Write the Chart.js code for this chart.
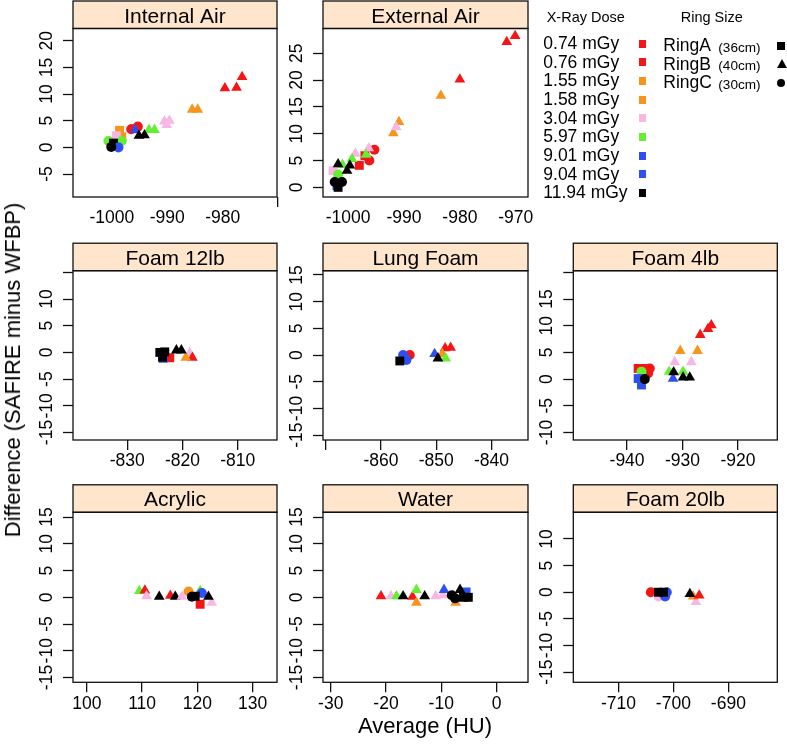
<!DOCTYPE html>
<html><head><meta charset="utf-8">
<script src="https://cdn.jsdelivr.net/npm/chart.js@4.4.1/dist/chart.umd.min.js"></script>
<style>
html,body{margin:0;padding:0;background:#fff;}
body{width:787px;height:747px;overflow:hidden;position:relative;font-family:"Liberation Sans",Arial,sans-serif;color:#000;}
canvas{position:absolute;left:0;top:0;}
.t{position:absolute;white-space:nowrap;line-height:1;}
.sw{position:absolute;}
</style></head><body>
<script>
// ---------- legend categories ----------
const doseLabels = ['0.74','0.76','1.55','1.58','3.04','5.97','9.01','9.04','11.94'];
const doseColors = ['#F31616','#F31616','#F7941E','#F7941E','#F8B7E3','#66EE33','#2F50F0','#2F50F0','#000000'];
const ringLabels = ['RingA','RingB','RingC'];
const ringSizes  = ['(36cm)','(40cm)','(30cm)'];
const ringCodes  = ['A','B','C'];
const ringShapes = {A:'rect', B:'triangle', C:'circle'};

// ---------- data: [average HU, difference, dose, ring] ----------
const internalAir = [
  [-979.6,11.1,'0.74','B'],[-977.5,11.2,'0.76','B'],[-976.5,13.2,'0.74','B'],
  [-985.5,7.1,'1.55','B'],[-984.5,7.1,'1.58','B'],
  [-990.5,4.9,'3.04','B'],[-989.6,5.0,'3.04','B'],[-990.1,4.2,'3.04','B'],
  [-993.3,3.3,'5.97','B'],[-992.3,3.3,'5.97','B'],
  [-996.5,3.4,'0.74','C'],[-995.3,3.9,'0.76','C'],[-995.9,3.5,'0.76','A'],
  [-995.8,3.3,'9.01','B'],
  [-995.1,2.2,'11.94','B'],[-994.1,2.3,'11.94','B'],
  [-998.6,3.2,'1.55','A'],[-998.2,2.0,'1.58','A'],[-999.2,2.2,'3.04','A'],
  [-1000.6,1.2,'5.97','C'],[-998.2,1.2,'5.97','C'],
  [-999.7,0.8,'11.94','A'],[-998.8,0.0,'9.04','C'],[-1000.1,0.1,'11.94','C']
];
const externalAir = [
  [-970.1,28.2,'0.74','B'],[-971.6,27.1,'0.76','B'],[-980.0,20.1,'0.74','B'],
  [-983.4,17.1,'1.55','B'],[-990.9,12.2,'1.58','B'],[-991.9,10.1,'1.55','B'],
  [-991.4,11.2,'3.04','B'],
  [-995.3,7.0,'0.74','C'],[-996.2,5.0,'0.76','C'],
  [-998.0,4.1,'0.74','A'],[-997.0,5.9,'0.76','A'],
  [-996.3,7.3,'3.04','B'],[-998.7,6.3,'3.04','B'],
  [-996.8,6.1,'5.97','B'],[-999.3,5.3,'5.97','B'],[-1001.0,4.2,'5.97','B'],
  [-1002.7,3.1,'3.04','A'],[-1001.8,2.4,'5.97','C'],
  [-1001.8,4.3,'11.94','B'],[-999.7,4.1,'11.94','B'],[-1000.2,3.1,'11.94','B'],
  [-1002.0,0.3,'9.04','A'],
  [-1002.4,1.0,'11.94','C'],[-1001.1,1.0,'11.94','C'],[-1001.8,0.0,'11.94','A']
];
const foam12lb = [
  [-822.3,-1.0,'0.74','A'],[-823.5,-1.1,'9.04','A'],
  [-824.1,0.0,'11.94','A'],[-823.2,0.1,'11.94','A'],[-823.6,-0.9,'11.94','A'],
  [-818.7,-0.1,'3.04','B'],[-818.2,-1.0,'0.74','B'],[-819.4,-1.0,'1.55','B'],
  [-821.1,0.4,'11.94','B'],[-820.2,0.4,'11.94','B']
];
const lungFoam = [
  [-854.8,0.0,'0.74','C'],[-856.0,0.0,'9.01','C'],[-855.4,-0.9,'9.04','C'],
  [-856.6,-1.1,'11.94','A'],
  [-850.3,0.2,'9.01','B'],[-848.4,1.3,'0.74','B'],[-847.4,1.4,'0.76','B'],
  [-848.9,0.2,'1.55','B'],[-848.3,-0.6,'5.97','B'],[-849.7,-0.6,'11.94','B']
];
const foam4lb = [
  [-938.0,2.0,'0.74','A'],[-936.8,2.0,'0.76','A'],[-935.9,2.0,'0.74','C'],[-936.2,1.1,'0.76','C'],
  [-937.4,1.4,'5.97','C'],[-938.0,0.1,'9.01','A'],[-937.4,-1.1,'9.04','A'],[-936.8,0.0,'11.94','C'],
  [-924.8,10.1,'0.74','B'],[-925.4,9.4,'0.76','B'],[-926.8,8.3,'0.74','B'],
  [-930.4,5.3,'1.55','B'],[-927.3,5.3,'1.58','B'],
  [-931.4,3.2,'3.04','B'],[-928.4,3.2,'3.04','B'],
  [-932.4,1.4,'5.97','B'],[-929.9,1.4,'5.97','B'],
  [-931.7,0.1,'9.01','B'],
  [-931.6,1.3,'11.94','B'],[-929.9,0.3,'11.94','B'],[-928.7,0.3,'11.94','B']
];
const acrylic = [
  [109.5,1.2,'5.97','B'],[110.5,1.3,'0.74','B'],[110.8,0.2,'3.04','B'],[113.1,0.1,'11.94','B'],
  [115.1,0.3,'0.76','B'],[116.0,0.1,'11.94','B'],[117.2,0.1,'3.04','B'],
  [118.4,1.1,'1.55','C'],[120.5,1.2,'5.97','B'],[120.8,0.8,'9.01','C'],[120.5,-1.3,'0.74','A'],
  [122.6,-1.0,'3.04','B'],[119.0,0.1,'11.94','C'],[119.6,0.2,'11.94','A'],[122.0,0.1,'11.94','B']
];
const water = [
  [-20.9,0.2,'0.74','B'],[-19.1,0.2,'3.04','B'],[-18.1,0.2,'5.97','B'],[-16.9,0.2,'11.94','B'],
  [-15.2,0.1,'0.76','B'],[-14.5,1.4,'5.97','B'],[-14.5,-1.0,'1.55','B'],[-13.0,0.2,'11.94','B'],
  [-11.0,0.2,'3.04','B'],[-9.7,0.4,'3.04','B'],[-9.5,1.4,'9.01','B'],[-7.4,-1.0,'1.58','B'],
  [-5.5,1.0,'9.04','A'],[-6.6,1.4,'11.94','B'],[-8.1,0.4,'11.94','C'],[-7.5,-0.2,'11.94','C'],
  [-6.0,0.0,'11.94','A'],[-5.1,0.0,'11.94','A']
];
const foam20lb = [
  [-704.1,0.0,'0.74','C'],[-702.7,-0.8,'3.04','C'],[-701.2,0.0,'9.01','C'],[-701.5,-0.8,'9.04','C'],
  [-702.7,0.0,'11.94','A'],[-701.8,0.0,'11.94','A'],
  [-695.9,-1.8,'3.04','B'],[-696.4,-0.8,'1.55','B'],[-695.3,-0.6,'0.74','B'],[-697.0,-0.3,'11.94','B']
];

// ---------- tick labels ----------
const internalAirXTicks = [-1000,-990,-980];
const externalAirXTicks = [-1000,-990,-980,-970];
const foam12lbXTicks = [-830,-820,-810];
const lungFoamXTicks = [-860,-850,-840];
const foam4lbXTicks = [-940,-930,-920];
const acrylicXTicks = [100,110,120,130];
const waterXTicks = [-30,-20,-10,0];
const foam20lbXTicks = [-710,-700,-690];

const internalAirYTicks = [-5,0,5,10,15,20];
const externalAirYTicks = [0,5,10,15,20,25];
const foam12lbYTicks = [-15,-10,-5,0,5,10];
const lungFoamYTicks = [-15,-10,-5,0,5,10,15];
const foam4lbYTicks = [-10,-5,0,5,10,15];
const acrylicYTicks = [-15,-10,-5,0,5,10,15];
const waterYTicks = [-15,-10,-5,0,5,10,15];
const foam20lbYTicks = [-15,-10,-5,0,5,10];

// ---------- panel layout ----------
const panels = [
  {title:'Internal Air', data:internalAir, box:[73,28.5,277,197], x:[-1007,-970.2], y:[-9.3,22.3],
   xt:internalAirXTicks, xExtra:[-970], yt:internalAirYTicks, yExtra:[], hideX:true},
  {title:'External Air', data:externalAir, box:[323,28.5,528,197], x:[-1004.5,-967.8], y:[-1.8,29.6],
   xt:externalAirXTicks, xExtra:[], yt:externalAirYTicks, yExtra:[], hideX:true},
  {title:'Foam 12lb', data:foam12lb, box:[73,270.7,277,440], x:[-839.8,-802.9], y:[-16.4,15.3],
   xt:foam12lbXTicks, xExtra:[], yt:foam12lbYTicks, yExtra:[15]},
  {title:'Lung Foam', data:lungFoam, box:[323,270.7,528,440], x:[-870.5,-833.4], y:[-15.9,15.8],
   xt:lungFoamXTicks, xExtra:[-870], yt:lungFoamYTicks, yExtra:[]},
  {title:'Foam 4lb', data:foam4lb, box:[573.3,270.7,777.3,440], x:[-949.7,-912.9], y:[-11.4,20.3],
   xt:foam4lbXTicks, xExtra:[], yt:foam4lbYTicks, yExtra:[20]},
  {title:'Acrylic', data:acrylic, box:[73,512.3,277,682.3], x:[97.5,134.4], y:[-15.9,15.9],
   xt:acrylicXTicks, xExtra:[], yt:acrylicYTicks, yExtra:[]},
  {title:'Water', data:water, box:[323,512.3,528,682.3], x:[-31.4,5.7], y:[-15.9,15.9],
   xt:waterXTicks, xExtra:[], yt:waterYTicks, yExtra:[]},
  {title:'Foam 20lb', data:foam20lb, box:[573.3,512.3,777.3,682.3], x:[-718.2,-681.1], y:[-16.9,15.0],
   xt:foam20lbXTicks, xExtra:[], yt:foam20lbYTicks, yExtra:[]}
];

const FONT = '"Liberation Sans", Arial, Helvetica, sans-serif';
const TICK_SIZE = 17.5;
const STRIP_H = 27.5;
const YW = 40, XH = 40, TL = 10;

const mctx = document.createElement('canvas').getContext('2d');
mctx.font = TICK_SIZE + 'px ' + FONT;

const panelPlugin = {
  id: 'panelbox',
  afterDraw(chart, args, opts) {
    const {ctx, chartArea: a} = chart;
    ctx.save();
    ctx.fillStyle = '#FFE5CC';
    ctx.fillRect(a.left, a.top - STRIP_H, a.right - a.left, STRIP_H);
    ctx.strokeStyle = '#111';
    ctx.lineWidth = 1.3;
    ctx.strokeRect(a.left, a.top - STRIP_H, a.right - a.left, STRIP_H);
    ctx.strokeRect(a.left, a.top, a.right - a.left, a.bottom - a.top);
    ctx.fillStyle = '#000';
    ctx.font = '21px ' + FONT;
    ctx.textAlign = 'center';
    ctx.textBaseline = 'alphabetic';
    ctx.fillText(opts.title, (a.left + a.right) / 2, a.top - 6);
    ctx.restore();
  }
};

function makePanel(p) {
  const cv = document.createElement('canvas');
  cv.width = 787; cv.height = 747;
  cv.style.width = '787px'; cv.style.height = '747px';
  document.body.appendChild(cv);
  const widest = Math.max(...p.yt.map(v => mctx.measureText(String(v)).width));
  const yPad = 26 - TL - widest / 2;
  const allX = p.xt.concat(p.xExtra).sort((a,b)=>a-b);
  const allY = p.yt.concat(p.yExtra).sort((a,b)=>a-b);
  new Chart(cv, {
    type: 'scatter',
    data: { datasets: [{
      data: p.data.map(d => ({x: d[0], y: d[1]})),
      pointStyle: p.data.map(d => ringShapes[d[3]]),
      pointRadius: p.data.map(d => d[3] === 'C' ? 5 : (d[3] === 'B' ? 6.2 : 6.3)),
      pointHoverRadius: p.data.map(d => d[3] === 'C' ? 5 : (d[3] === 'B' ? 6.2 : 6.3)),
      pointBackgroundColor: p.data.map(d => doseColors[doseLabels.indexOf(d[2])]),
      pointBorderColor: 'rgba(0,0,0,0)',
      pointBorderWidth: 0,
      clip: false
    }]},
    options: {
      responsive: false, animation: false, events: [], devicePixelRatio: 1,
      layout: { padding: { left: p.box[0] - YW, top: p.box[1], right: 787 - p.box[2], bottom: 747 - p.box[3] - XH } },
      plugins: { legend: {display: false}, tooltip: {enabled: false}, title: {display: false},
                 panelbox: { title: p.title } },
      scales: {
        x: {
          type: 'linear', min: p.x[0], max: p.x[1],
          afterBuildTicks: s => { s.ticks = allX.map(v => ({value: v})); },
          afterFit: s => { s.height = XH; },
          border: {display: false},
          grid: { drawOnChartArea: false, drawTicks: true, tickLength: TL, lineWidth: 1.3,
                  tickWidth: 1.3,
                  tickColor: c => (p.hideX && !p.xExtra.includes(c.tick && c.tick.value)) ? 'rgba(0,0,0,0)' : '#111' },
          ticks: { autoSkip: false, maxRotation: 0, minRotation: 0, padding: 1, color: '#000',
                   font: {family: FONT, size: TICK_SIZE},
                   callback: v => p.xt.includes(v) ? String(v) : '' }
        },
        y: {
          type: 'linear', min: p.y[0], max: p.y[1],
          afterBuildTicks: s => { s.ticks = allY.map(v => ({value: v})); },
          afterFit: s => { s.width = YW; },
          border: {display: false},
          grid: { drawOnChartArea: false, drawTicks: true, tickLength: TL, tickWidth: 1.3, tickColor: '#111' },
          ticks: { autoSkip: false, minRotation: 90, maxRotation: 90, crossAlign: 'center', padding: yPad,
                   color: '#000', font: {family: FONT, size: TICK_SIZE},
                   callback: v => p.yt.includes(v) ? String(v) : '' }
        }
      }
    },
    plugins: [panelPlugin]
  });
}
panels.forEach(makePanel);

// ---------- legend (top-right cell) & axis titles ----------
function addText(txt, left, capCenter, size, extra) {
  const d = document.createElement('div');
  d.className = 't';
  d.textContent = txt;
  d.style.fontSize = size + 'px';
  d.style.left = left + 'px';
  d.style.top = (capCenter - 0.4885 * size) + 'px';
  if (extra) Object.assign(d.style, extra);
  document.body.appendChild(d);
  return d;
}
addText('X-Ray Dose', 546.7, 17.3, 14.5);
addText('Ring Size', 680.7, 17.3, 14.5);
doseLabels.forEach((lab, i) => {
  const cy = 43.7 + i * 18.66;
  addText(lab + ' mGy', 543.3, cy, 17.5);
  const s = document.createElement('div');
  s.className = 'sw';
  Object.assign(s.style, {left: '638.5px', top: (cy - 3.9) + 'px', width: '7.8px', height: '7.8px', background: doseColors[i]});
  document.body.appendChild(s);
});
ringLabels.forEach((lab, i) => {
  const cy = 46 + i * 18.4;
  addText(lab, 663.3, cy, 17.5);
  const base = cy - 0.4885 * 17.5 + 0.8465 * 17.5;
  const d = document.createElement('div');
  d.className = 't'; d.textContent = ringSizes[i];
  d.style.fontSize = '13.6px'; d.style.left = '718.3px';
  d.style.top = (base - 0.8465 * 13.6) + 'px';
  document.body.appendChild(d);
  const m = document.createElement('div');
  m.className = 'sw';
  const code = ringCodes[i];
  if (code === 'A') Object.assign(m.style, {left: '777px', top: (cy - 4) + 'px', width: '8px', height: '8px', background: '#000'});
  else if (code === 'C') Object.assign(m.style, {left: '777px', top: (cy - 4.2) + 'px', width: '8.4px', height: '8.4px', background: '#000', borderRadius: '50%'});
  else Object.assign(m.style, {left: '776.5px', top: (cy - 5) + 'px', width: 0, height: 0,
      borderLeft: '5px solid transparent', borderRight: '5px solid transparent', borderBottom: '9px solid #000'});
  document.body.appendChild(m);
});
// axis titles
const xt = addText('Average (HU)', 0, 726, 22);
xt.style.left = '425px'; xt.style.transform = 'translateX(-50%)';
const yt = document.createElement('div');
yt.className = 't'; yt.textContent = 'Difference (SAFIRE minus WFBP)';
Object.assign(yt.style, {fontSize: '22px', left: '13px', top: '370px', transform: 'translate(-50%,-50%) rotate(-90deg)'});
document.body.appendChild(yt);
</script>
</body></html>
